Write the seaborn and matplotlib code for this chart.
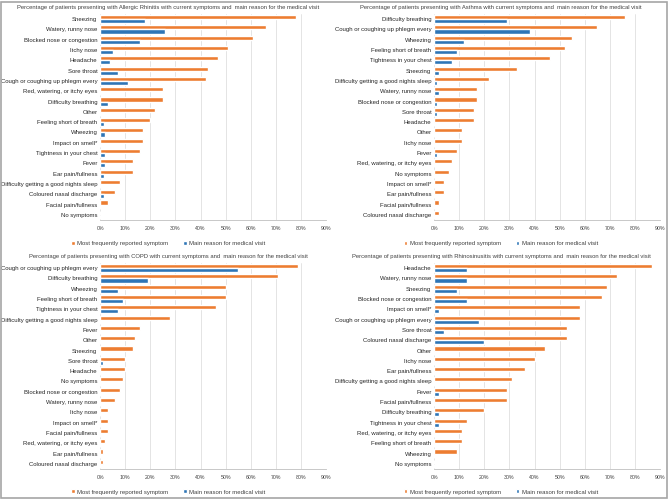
import pandas as pd
import matplotlib.pyplot as plt
import seaborn as sns
from matplotlib.patches import Rectangle

# colours (Excel default orange / blue)
ORANGE = '#ED7D31'
BLUE = '#2E75B6'
series_names = ['Most frequently reported symptom', 'Main reason for medical visit']

# Allergic Rhinitis
ar_symptoms = ['Sneezing', 'Watery, runny nose', 'Blocked nose or congestion', 'Itchy nose', 'Headache',
               'Sore throat', 'Cough or coughing up phlegm every', 'Red, watering, or itchy eyes',
               'Difficulty breathing', 'Other', 'Feeling short of breath', 'Wheezing', 'Impact on smell*',
               'Tightness in your chest', 'Fever', 'Ear pain/fullness', 'Difficulty getting a good nights sleep',
               'Coloured nasal discharge', 'Facial pain/fullness', 'No symptoms']
ar_frequent = [78, 66, 61, 51, 47, 43, 42, 25, 25, 22, 20, 17, 17, 16, 13, 13, 8, 6, 3, 0]
ar_main = [18, 26, 16, 5, 4, 7, 11, 0, 3, 0, 1.5, 2, 0, 2, 2, 1.5, 0, 1.5, 0, 0]

# Asthma
as_symptoms = ['Difficulty breathing', 'Cough or coughing up phlegm every', 'Wheezing', 'Feeling short of breath',
               'Tightness in your chest', 'Sneezing', 'Difficulty getting a good nights sleep',
               'Watery, runny nose', 'Blocked nose or congestion', 'Sore throat', 'Headache', 'Other',
               'Itchy nose', 'Fever', 'Red, watering, or itchy eyes', 'No symptoms', 'Impact on smell*',
               'Ear pain/fullness', 'Facial pain/fullness', 'Coloured nasal discharge']
as_frequent = [76, 65, 55, 52, 46, 33, 22, 17, 17, 16, 16, 11, 11, 9, 7, 6, 4, 4, 2, 2]
as_main = [29, 38, 12, 9, 7, 2, 1, 2, 1, 1, 0, 0, 0, 1, 0, 0, 0, 0, 0, 0]

# COPD
co_symptoms = ['Cough or coughing up phlegm every', 'Difficulty breathing', 'Wheezing', 'Feeling short of breath',
               'Tightness in your chest', 'Difficulty getting a good nights sleep', 'Fever', 'Other',
               'Sneezing', 'Sore throat', 'Headache', 'No symptoms', 'Blocked nose or congestion',
               'Watery, runny nose', 'Itchy nose', 'Impact on smell*', 'Facial pain/fullness',
               'Red, watering, or itchy eyes', 'Ear pain/fullness', 'Coloured nasal discharge']
co_frequent = [79, 71, 50, 50, 46, 28, 16, 14, 13, 10, 10, 9, 8, 6, 3, 3, 3, 2, 1, 1]
co_main = [55, 19, 7, 9, 7, 0, 0, 0, 0, 1, 0, 0, 0, 0, 0, 0, 0, 0, 0, 0]

# Rhinosinusitis
rs_symptoms = ['Headache', 'Watery, runny nose', 'Sneezing', 'Blocked nose or congestion', 'Impact on smell*',
               'Cough or coughing up phlegm every', 'Sore throat', 'Coloured nasal discharge', 'Other',
               'Itchy nose', 'Ear pain/fullness', 'Difficulty getting a good nights sleep', 'Fever',
               'Facial pain/fullness', 'Difficulty breathing', 'Tightness in your chest',
               'Red, watering, or itchy eyes', 'Feeling short of breath', 'Wheezing', 'No symptoms']
rs_frequent = [87, 73, 69, 67, 58, 58, 53, 53, 44, 40, 36, 31, 29, 29, 20, 13, 11, 11, 9, 0]
rs_main = [13, 13, 9, 13, 2, 18, 4, 20, 0, 0, 0, 0, 2, 0, 2, 2, 0, 0, 0, 0]

panels = [
    ('Allergic Rhinitis', ar_symptoms, ar_frequent, ar_main),
    ('Asthma', as_symptoms, as_frequent, as_main),
    ('COPD', co_symptoms, co_frequent, co_main),
    ('Rhinosinusitis', rs_symptoms, rs_frequent, rs_main),
]

sns.set_style('white')
plt.rcParams['font.family'] = ['Liberation Sans', 'DejaVu Sans']

fig = plt.figure(figsize=(6.68, 5), dpi=100)

# axes boxes [left, bottom, width, height] in figure fraction
boxes = [
    [0.150, 0.560, 0.338, 0.412],
    [0.650, 0.560, 0.338, 0.412],
    [0.150, 0.062, 0.338, 0.412],
    [0.650, 0.062, 0.338, 0.412],
]
title_pos = [(0.252, 0.984), (0.750, 0.984), (0.252, 0.487), (0.750, 0.487)]
legend_y = [0.513, 0.513, 0.016, 0.016]

for (name, symptoms, freq, main), box, tpos, ly in zip(panels, boxes, title_pos, legend_y):
    df = pd.DataFrame({
        'symptom': symptoms * 2,
        'pct': freq + main,
        'series': [series_names[0]] * len(symptoms) + [series_names[1]] * len(symptoms),
    })
    ax = fig.add_axes(box)
    sns.barplot(data=df, y='symptom', x='pct', hue='series', order=symptoms,
                hue_order=series_names, palette=[ORANGE, BLUE], orient='h',
                width=0.8, ax=ax, saturation=1)
    handles, labels = ax.get_legend_handles_labels()
    ax.get_legend().remove()

    ax.set_xlim(0, 90)
    ax.set_xticks(range(0, 91, 10))
    ax.set_xticklabels([f'{t}%' for t in range(0, 91, 10)])
    ax.set_xlabel('')
    ax.set_ylabel('')
    ax.grid(axis='x', color='#d9d9d9', linewidth=0.5)
    ax.set_axisbelow(True)
    for s in ['top', 'right', 'left']:
        ax.spines[s].set_visible(False)
    ax.spines['bottom'].set_color('#bfbfbf')
    ax.spines['bottom'].set_linewidth(0.6)
    ax.tick_params(axis='x', labelsize=3.8, colors='#bfbfbf', labelcolor='#404040',
                   length=2, width=0.5, pad=2)
    ax.tick_params(axis='y', labelsize=4.3, labelcolor='#262626', length=0, pad=2)

    fig.text(tpos[0], tpos[1],
             f'Percentage of patients presenting with {name} with current symptoms and  main reason for the medical visit',
             ha='center', va='center', fontsize=4.2, color='#404040')
    fig.legend(handles, labels, loc='center', bbox_to_anchor=(tpos[0], ly), ncol=2, frameon=False,
               fontsize=4.3, handlelength=0.6, handleheight=0.6, handletextpad=0.4, columnspacing=2.5,
               labelcolor='#404040')

# grey border around the whole image
fig.patches.append(Rectangle((0.002, 0.004), 0.996, 0.993, transform=fig.transFigure,
                             fill=False, edgecolor='#a6a6a6', linewidth=1.2))

fig.savefig('out.png', dpi=100)
